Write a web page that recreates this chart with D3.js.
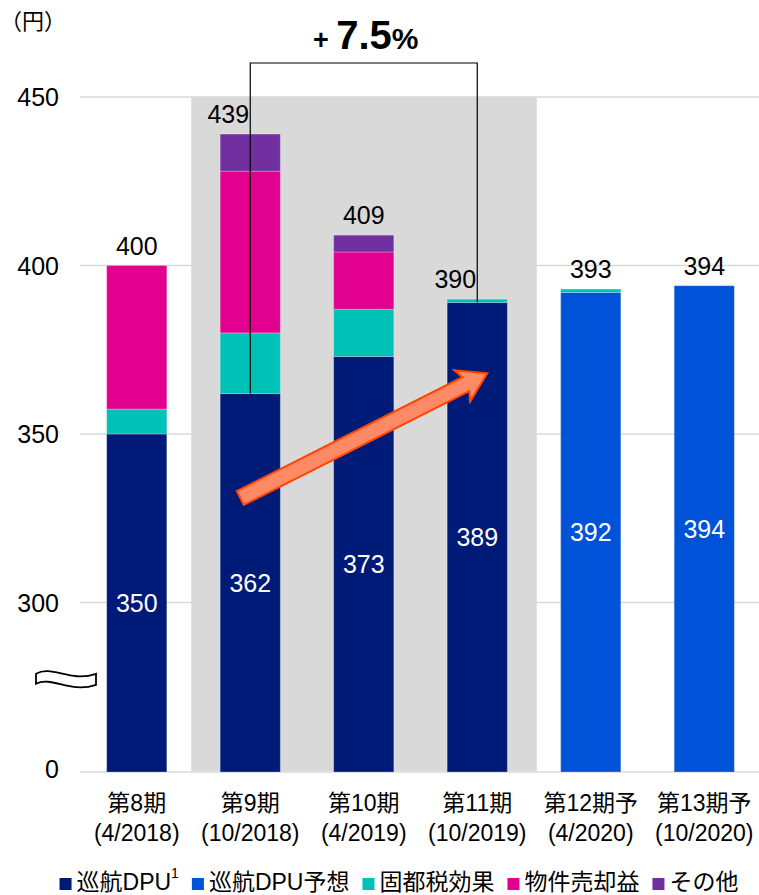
<!DOCTYPE html>
<html>
<head>
<meta charset="utf-8">
<script src="https://cdn.jsdelivr.net/npm/d3@7"></script>
<style>
  body { margin: 0; background: #fff; }
  svg { display: block; }
  text { font-family: "Liberation Sans", Arial, "Noto Sans CJK JP", sans-serif; fill: #000; }
</style>
</head>
<body>
<svg id="chart" width="759" height="895"></svg>
<script>
// Periods and their fiscal end months
const categories = ["第8期", "第9期", "第10期", "第11期", "第12期予", "第13期予"];
const periods = ["(4/2018)", "(10/2018)", "(4/2019)", "(10/2019)", "(4/2020)", "(10/2020)"];

// DPU components (円)
const cruiseDPU   = [350, 362, 373, 389, 0, 0];
const forecastDPU = [0, 0, 0, 0, 392, 394];
const taxEffect   = [7.4, 18, 14, 1, 1, 0];
const saleGain    = [42.6, 48, 17, 0, 0, 0];
const otherGain   = [0, 11, 5, 0, 0, 0];
const totals      = [400, 439, 409, 390, 393, 394];

const yTicks = [0, 300, 350, 400, 450];
const seriesKeys   = ["cruise", "forecast", "tax", "sale", "other"];
const seriesNames  = ["巡航DPU", "巡航DPU予想", "固都税効果", "物件売却益", "その他"];
const seriesColors = ["#001a78", "#0052d9", "#00c1b5", "#e2008f", "#7030a0"];

// Growth annotation between these two periods (cruise DPU)
const growthFrom = "第9期", growthTo = "第11期";
// Trend arrow endpoints: [period, value]
const arrowStart = ["第9期", 331], arrowEnd = ["第11期", 368];
// Shaded block of actual results
const shadeFrom = "第9期", shadeTo = "第11期";

const svg = d3.select("#chart");

const x = d3.scaleBand().domain(categories).range([80, 761])
  .paddingInner(0.47).paddingOuter(0.235);
// broken axis: 0–300 compressed into one gridline step
const y = d3.scaleLinear().domain([0, 300, 450]).range([772, 602.5, 97]);
const bw = x.bandwidth(), step = x.step();
const cx = c => x(c) + bw / 2;

// gridlines
svg.append("g").selectAll("line").data(yTicks).join("line")
  .attr("x1", 80).attr("x2", 759)
  .attr("y1", d => y(d)).attr("y2", d => y(d))
  .attr("stroke", "#d9d9d9").attr("stroke-width", 1.5);

// shaded region
svg.append("rect")
  .attr("x", x(shadeFrom) - step * 0.255)
  .attr("width", x(shadeTo) + bw + step * 0.26 - (x(shadeFrom) - step * 0.255))
  .attr("y", y(450)).attr("height", y(0) - y(450) - 1)
  .attr("fill", "#d9d9d9");

// y tick labels
svg.append("g").selectAll("text").data(yTicks).join("text")
  .attr("x", 59).attr("y", d => y(d) + (d === 0 ? -3 : 0))
  .attr("text-anchor", "end").attr("dominant-baseline", "central")
  .attr("font-size", 25).text(d => d);

svg.append("text").attr("x", 0).attr("y", 29).attr("font-size", 22)
  .style("font-family", "'Noto Sans CJK JP', sans-serif").text("（円）");

// axis break mark
const by = y(165), bx0 = 36, bx1 = 96;
svg.append("path")
  .attr("d", `M${bx0},${by - 5} C${bx0 + 16},${by - 14} ${bx1 - 26},${by + 4} ${bx1},${by - 5}
              L${bx1},${by + 6} C${bx1 - 26},${by + 15} ${bx0 + 16},${by - 3} ${bx0},${by + 5} Z`)
  .attr("fill", "#fff").attr("stroke", "#000").attr("stroke-width", 1.8);

// stacked bars
const rows = categories.map((c, i) => ({
  cat: c, cruise: cruiseDPU[i], forecast: forecastDPU[i],
  tax: taxEffect[i], sale: saleGain[i], other: otherGain[i]
}));
const stacked = d3.stack().keys(seriesKeys)(rows);
svg.append("g").selectAll("g").data(stacked).join("g")
  .attr("fill", (d, i) => seriesColors[i])
  .selectAll("rect").data(d => d.filter(s => s[1] - s[0] > 0)).join("rect")
  .attr("x", d => x(d.data.cat)).attr("width", bw)
  .attr("y", d => y(d[1])).attr("height", d => y(d[0]) - y(d[1]))
  .attr("stroke", "#fff").attr("stroke-opacity", 0.25).attr("stroke-width", 1);

// base DPU value inside the bar
svg.append("g").selectAll("text").data(rows).join("text")
  .attr("x", d => cx(d.cat))
  .attr("y", d => (y(0) + y(d.cruise + d.forecast)) / 2)
  .attr("text-anchor", "middle").attr("dominant-baseline", "central")
  .attr("font-size", 25).style("fill", "#fff")
  .text(d => d.cruise + d.forecast);

// total labels
svg.append("g").selectAll("text").data(categories).join("text")
  .attr("x", (c) => cx(c) + (c === growthFrom || c === growthTo ? -22 : 0))
  .attr("y", (c, i) => y(totals[i]) - 11)
  .attr("text-anchor", "middle").attr("font-size", 25)
  .text((c, i) => totals[i]);

// x axis labels
const xl = svg.append("g").selectAll("text").data(categories).join("text")
  .attr("text-anchor", "middle").attr("font-size", 23);
xl.append("tspan").attr("x", d => cx(d)).attr("y", 811).text(d => d);
xl.append("tspan").attr("x", d => cx(d)).attr("y", 841).text((d, i) => periods[i]);

// growth bracket
const iFrom = categories.indexOf(growthFrom), iTo = categories.indexOf(growthTo);
const vFrom = cruiseDPU[iFrom], vTo = cruiseDPU[iTo];
const bTop = y(450) - 34;
svg.append("path")
  .attr("d", `M${cx(growthFrom)},${y(vFrom)} V${bTop} H${cx(growthTo)} V${y(vTo)}`)
  .attr("fill", "none").attr("stroke", "#000").attr("stroke-width", 1.2);
const pct = ((vTo / vFrom - 1) * 100).toFixed(1);
const title = svg.append("text")
  .attr("x", (cx(growthFrom) + cx(growthTo)) / 2 + 2).attr("y", bTop - 14)
  .attr("text-anchor", "middle").attr("font-weight", "bold");
title.append("tspan").attr("font-size", 27).text("+ ");
title.append("tspan").attr("font-size", 40).text(pct);
title.append("tspan").attr("font-size", 30).text("%");

// trend arrow
const ax0 = cx(arrowStart[0]) - 10, ay0 = y(arrowStart[1]);
const ax1 = cx(arrowEnd[0]) + 10, ay1 = y(arrowEnd[1]);
const len = Math.hypot(ax1 - ax0, ay1 - ay0);
const ang = Math.atan2(ay1 - ay0, ax1 - ax0) * 180 / Math.PI;
const sw = 7.8, hl = 24, hw = 17.5;
svg.append("path")
  .attr("transform", `translate(${ax0},${ay0}) rotate(${ang})`)
  .attr("d", `M0,${-sw} L${len - hl},${-sw} L${len - hl - 4},${-hw} L${len},0 L${len - hl - 4},${hw} L${len - hl},${sw} L0,${sw} Z`)
  .attr("fill", "#ff8a65").attr("stroke", "#ff4500").attr("stroke-width", 2)
  .attr("stroke-linejoin", "miter");

// legend
const lg = svg.append("g");
let lx = 0;
seriesNames.forEach((name, i) => {
  const g = lg.append("g").attr("transform", `translate(${lx},0)`);
  g.append("rect").attr("x", 0).attr("y", 878).attr("width", 12).attr("height", 12)
    .attr("fill", seriesColors[i]);
  const t = g.append("text").attr("x", 17).attr("y", 890).attr("font-size", 23);
  t.append("tspan").text(name);
  if (i === 0) t.append("tspan").attr("font-size", 14).attr("dy", -12).text("1");
  const w = 17 + t.node().getComputedTextLength();
  lx += w + 13;
});
const lw = lx - 13;
lg.attr("transform", `translate(${399 - lw / 2},0)`);
</script>
</body>
</html>
